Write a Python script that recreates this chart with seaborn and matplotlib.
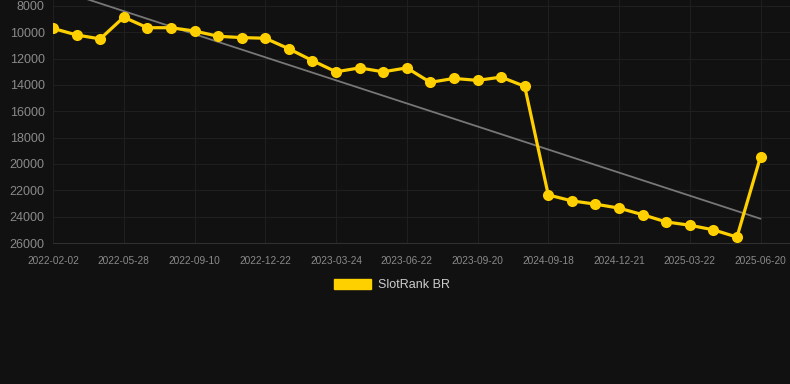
import numpy as np
import pandas as pd
import matplotlib
matplotlib.use("Agg")
import matplotlib.pyplot as plt
import seaborn as sns
from matplotlib.patches import Patch

dates = ["2022-02-02", "", "", "2022-05-28", "", "", "2022-09-10", "", "", "2022-12-22",
         "", "", "2023-03-24", "", "", "2023-06-22", "", "", "2023-09-20", "", "",
         "2024-09-18", "", "", "2024-12-21", "", "", "2025-03-22", "", "", "2025-06-20"]
ranks = [9700, 10200, 10500, 8850, 9650, 9650, 9900, 10300, 10400, 10450,
         11250, 12150, 13000, 12700, 13000, 12700, 13800, 13500, 13650, 13400,
         14100, 22350, 22800, 23050, 23350, 23850, 24400, 24650, 25000, 25550, 19450]
series_name = "SlotRank BR"
y_ticks = [8000, 10000, 12000, 14000, 16000, 18000, 20000, 22000, 24000, 26000]

BG = "#111111"
GOLD = "#FFD000"

sns.set_style("dark")
plt.rcParams["font.family"] = ["Liberation Sans", "DejaVu Sans"]

df = pd.DataFrame({"idx": np.arange(len(ranks)), "rank": ranks})

fig = plt.figure(figsize=(7.9, 3.84), dpi=100, facecolor=BG)
ax = fig.add_axes([53 / 790, 1 - 243 / 384, (790 - 53) / 790, 243 / 384])
ax.set_facecolor(BG)

# trend line (linear fit)
coef = np.polyfit(df["idx"], df["rank"], 1)
tx = np.array([0, len(ranks) - 1])
ax.plot(tx, np.polyval(coef, tx), color="#777777", lw=1.3, zorder=2)

sns.lineplot(data=df, x="idx", y="rank", ax=ax, color=GOLD, lw=2.3,
             marker="o", markersize=8, markeredgewidth=0, zorder=3)

ax.set_xlim(0, 31.25)
ax.set_ylim(26000, 7545)
ax.set_yticks(y_ticks)
ax.set_yticklabels([str(v) for v in y_ticks])
lab_idx = [i for i, d in enumerate(dates) if d]
ax.set_xticks(lab_idx)
ax.set_xticklabels([dates[i] for i in lab_idx])
ax.tick_params(axis="y", colors="#8a8a8a", labelsize=9, length=0, pad=6)
ax.tick_params(axis="x", colors="#8a8a8a", labelsize=7.3, length=0, pad=9)
ax.grid(True, color="#1f1f1f", lw=0.8)
ax.set_xlabel("")
ax.set_ylabel("")
for s in ["top", "right", "left"]:
    ax.spines[s].set_visible(False)
ax.spines["bottom"].set_color("#303030")

handles = [Patch(facecolor=GOLD, edgecolor=GOLD, label=series_name)]
fig.legend(handles=handles, loc="center", bbox_to_anchor=(392 / 790, 1 - 285 / 384),
           frameon=False, fontsize=9, labelcolor="#cccccc",
           handlelength=3.0, handleheight=0.9, handletextpad=0.6)

fig.savefig("out.png", dpi=100, facecolor=BG)
